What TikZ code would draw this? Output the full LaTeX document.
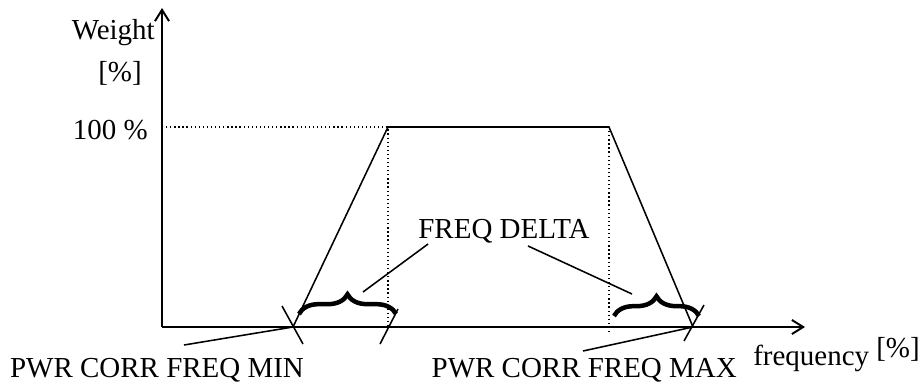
\documentclass[tikz,border=0pt]{standalone}
\usepackage{fontspec}
\setmainfont{Liberation Serif}
\usetikzlibrary{arrows.meta,calc,decorations.pathreplacing}

\begin{document}
\begin{tikzpicture}[x=0.025cm, y=-0.025cm,
		axis/.style={line width=1.4pt, -{Straight Barb[length=8pt,width=10pt,line width=1.4pt]}},
		curve/.style={line width=1.1pt},
		guide/.style={line width=0.9pt, dotted},
		bracebar/.style={line width=3.2pt, decorate, decoration={brace, amplitude=14pt}},
		lbl/.style={inner sep=0pt, font=\fontsize{20.6}{24}\selectfont}]
		%%%%% START %%%%%
		
		\useasboundingbox (0, 0) rectangle (920, 387);
		
		\coordinate (o) at (162, 327);
		\coordinate (ytip) at (162, 8);
		\coordinate (xtip) at (805, 327);
		\coordinate (fmin) at (293, 327);
		\coordinate (rise) at (388, 127);
		\coordinate (fall) at (609, 127);
		\coordinate (fmax) at (693, 327);
		
		\draw[axis] (o) -- (ytip);
		\draw[axis] (o) -- (xtip);
		
		\node[lbl, anchor=base east] (weight) at (155, 40) {Weight};
		\node[lbl, anchor=base] (wunit) at (120, 81) {[\%]};
		\node[lbl, anchor=base east] (full) at (148, 139) {100 \%};
		\node[lbl, anchor=base west] (xlab) at (753, 365) {frequency \raisebox{5pt}{[\%]}};
		
		\draw[guide] (rise -| o) -- (rise) -- (rise |- o);
		\draw[guide] (fall) -- ($(fall |- o)+(0, 6)$);
		\draw[curve] (fmin) -- (rise) -- (fall) -- (fmax);
		
		\draw[curve] ($(fmin)+(-11, -21)$) -- ($(fmin)+(10, 17)$);
		\draw[curve] ($(rise |- o)+(10, -18)$) -- ($(rise |- o)+(-8, 17)$);
		\draw[curve] ($(fmax)+(11, -22)$) -- ($(fmax)+(-9, 14)$);
		
		\draw[bracebar] (299, 314) -- (396, 314);
		\draw[bracebar] (614, 316) -- (699, 316);
		
		\node[lbl, anchor=base] (delta) at (504, 238) {FREQ DELTA};
		\coordinate (dl) at (363, 292);
		\coordinate (dr) at (632, 294);
		\draw[curve] ($(delta.south west)+(10, 1)$) -- (dl);
		\draw[curve] ($(delta.south)+(24, 3)$) -- (dr);
		
		\node[lbl, anchor=base] (minlab) at (157, 377) {PWR CORR FREQ MIN};
		\node[lbl, anchor=base east] (maxlab) at (737, 377) {PWR CORR FREQ MAX};
		\coordinate (minfoot) at (184, 345);
		\coordinate (maxfoot) at (583, 351);
		\draw[curve] (minfoot) -- (fmin);
		\draw[curve] (maxfoot) -- (fmax);
		
		%%%%% END %%%%%
	\end{tikzpicture}
\end{document}
